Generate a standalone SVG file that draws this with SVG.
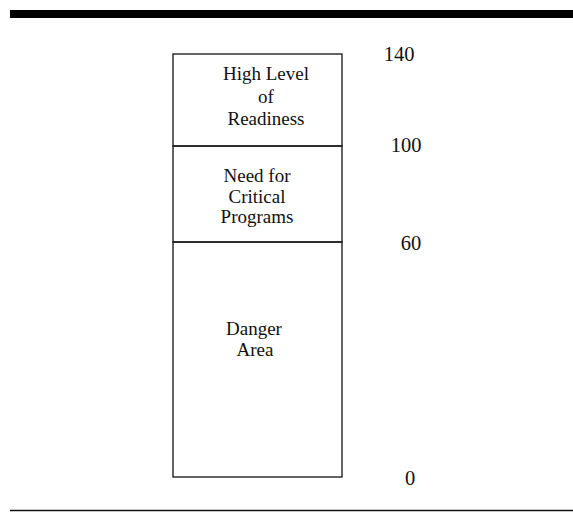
<svg xmlns="http://www.w3.org/2000/svg" width="573" height="512" viewBox="0 0 573 512">
<style>
.t{font-family:"Liberation Serif","Times New Roman",serif;font-size:19px;fill:#111;text-anchor:middle}
.n{font-family:"Liberation Serif","Times New Roman",serif;font-size:20.5px;fill:#111;text-anchor:middle}
.ln{stroke:#111;stroke-width:1.3;fill:none}
</style>
<rect width="573" height="512" fill="#fff"/>
<rect x="10" y="10" width="563" height="8" fill="#000"/>
<line x1="10" y1="510.5" x2="573" y2="510.5" stroke="#111" stroke-width="1.6"/>
<g id="high">
<rect class="ln" x="173" y="54" width="169" height="92"/>
<text class="t" x="266" y="80">High Level</text>
<text class="t" x="266" y="102.5">of</text>
<text class="t" x="266" y="125">Readiness</text>
</g>
<g id="need">
<rect class="ln" x="173" y="146" width="169" height="96"/>
<text class="t" x="257" y="182">Need for</text>
<text class="t" x="257" y="202.5">Critical</text>
<text class="t" x="257" y="223">Programs</text>
</g>
<g id="danger">
<rect class="ln" x="173" y="242" width="169" height="235"/>
<text class="t" x="254" y="335">Danger</text>
<text class="t" x="255" y="356">Area</text>
</g>
<g id="scale">
<text class="n" x="399" y="61">140</text>
<text class="n" x="406" y="152">100</text>
<text class="n" x="411" y="250">60</text>
<text class="n" x="410" y="485">0</text>
</g>
</svg>
